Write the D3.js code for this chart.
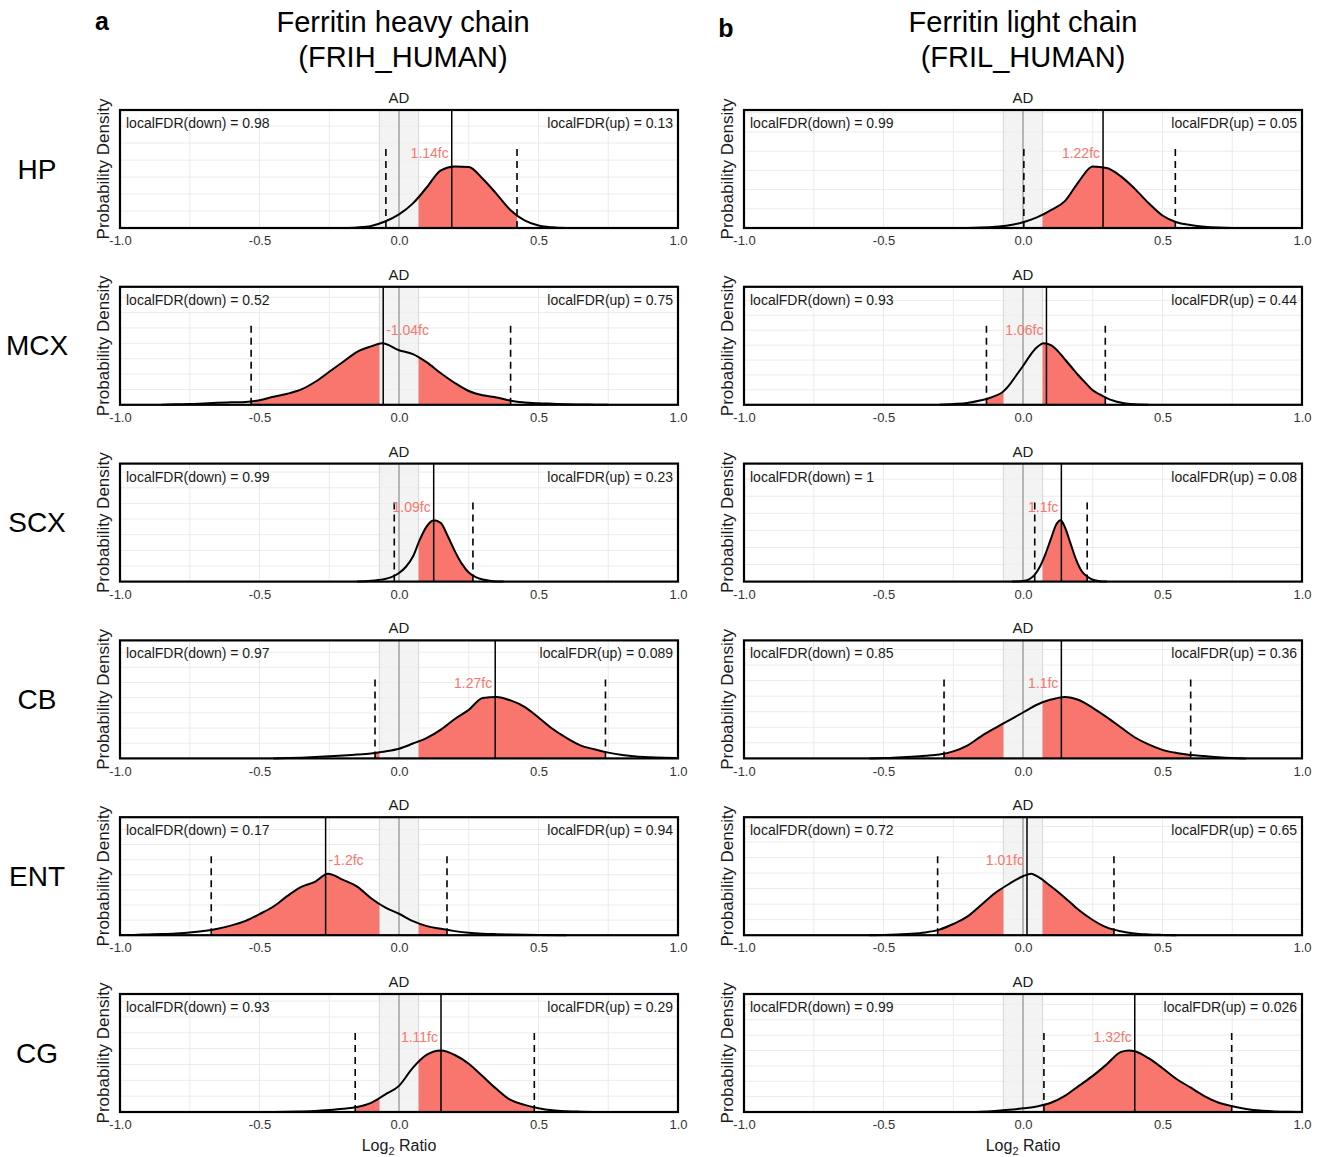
<!DOCTYPE html>
<html>
<head>
<meta charset="utf-8">
<script src="https://cdn.jsdelivr.net/npm/d3@7"></script>
<style>
  body { margin: 0; background: #fff; }
  svg text { font-family: "Liberation Sans", Arial, Helvetica, sans-serif; }
</style>
</head>
<body>
<svg id="chart" width="1327" height="1157"></svg>
<script>
// ---- labels ----
const regions = ["HP", "MCX", "SCX", "CB", "ENT", "CG"];
const panelLetters = ["a", "b"];
const proteinNames = ["Ferritin heavy chain", "Ferritin light chain"];
const proteinIds = ["(FRIH_HUMAN)", "(FRIL_HUMAN)"];
const conditionLabel = "AD";
const tickValues = [-1, -0.5, 0, 0.5, 1];

// ---- Ferritin heavy chain (FRIH_HUMAN) ----
const foldChangeFRIH = [1.14, -1.04, 1.09, 1.27, -1.2, 1.11];
const fdrDownFRIH = [0.98, 0.52, 0.99, 0.97, 0.17, 0.93];
const fdrUpFRIH = [0.13, 0.75, 0.23, 0.089, 0.94, 0.29];
const intervalFRIH = [[-0.047, 0.423], [-0.53, 0.40], [-0.017, 0.265], [-0.086, 0.74], [-0.673, 0.172], [-0.157, 0.485]];

const densFRIH_HP = [[-0.2,0],[-0.15,0.03],[-0.1,0.12],[-0.05,0.38],[0,0.8],[0.05,1.45],[0.1,2.4],[0.15,3.4],[0.2,3.62],[0.25,3.6],[0.3,2.9],[0.35,2.0],[0.4,1.05],[0.45,0.45],[0.5,0.15],[0.55,0.04],[0.6,0]];
const densFRIH_MCX = [[-0.85,0],[-0.8,0.03],[-0.75,0.05],[-0.7,0.09],[-0.65,0.13],[-0.6,0.16],[-0.55,0.19],[-0.5,0.3],[-0.45,0.53],[-0.4,0.72],[-0.35,1.0],[-0.3,1.5],[-0.25,2.15],[-0.2,2.8],[-0.15,3.45],[-0.1,3.8],[-0.06,4.0],[0,3.55],[0.05,3.3],[0.1,2.76],[0.15,2.05],[0.2,1.42],[0.25,0.9],[0.3,0.62],[0.35,0.48],[0.4,0.27],[0.45,0.15],[0.5,0.1],[0.55,0.07],[0.6,0.04],[0.7,0.01],[0.75,0]];
const densFRIH_SCX = [[-0.15,0],[-0.1,0.05],[-0.075,0.1],[-0.05,0.17],[-0.025,0.3],[0,0.55],[0.025,0.95],[0.05,1.6],[0.075,2.7],[0.1,3.55],[0.125,3.93],[0.15,3.75],[0.175,2.9],[0.2,1.95],[0.225,1.15],[0.25,0.58],[0.275,0.29],[0.3,0.13],[0.325,0.05],[0.35,0.01],[0.375,0]];
const densFRIH_CB = [[-0.45,0],[-0.4,0.02],[-0.35,0.05],[-0.3,0.09],[-0.25,0.14],[-0.2,0.19],[-0.15,0.25],[-0.1,0.33],[-0.05,0.46],[0,0.64],[0.05,0.98],[0.1,1.35],[0.15,1.9],[0.2,2.6],[0.25,3.2],[0.3,3.98],[0.35,4.05],[0.4,3.82],[0.45,3.4],[0.5,2.7],[0.55,1.95],[0.6,1.35],[0.65,0.86],[0.7,0.6],[0.75,0.38],[0.8,0.22],[0.85,0.12],[0.9,0.07],[0.95,0.04],[1.0,0.02]];
const densFRIH_ENT = [[-1.0,0.01],[-0.95,0.02],[-0.9,0.05],[-0.85,0.08],[-0.8,0.12],[-0.75,0.18],[-0.7,0.28],[-0.65,0.43],[-0.6,0.65],[-0.55,0.95],[-0.5,1.4],[-0.45,1.9],[-0.4,2.6],[-0.35,3.2],[-0.3,3.55],[-0.255,4.07],[-0.2,3.66],[-0.15,3.22],[-0.1,2.45],[-0.05,1.84],[0,1.42],[0.05,0.93],[0.1,0.6],[0.15,0.42],[0.2,0.27],[0.25,0.16],[0.3,0.1],[0.35,0.07],[0.4,0.05],[0.5,0.02],[0.6,0]];
const densFRIH_CG = [[-0.45,0],[-0.4,0.01],[-0.35,0.03],[-0.3,0.06],[-0.25,0.12],[-0.2,0.2],[-0.15,0.32],[-0.1,0.58],[-0.05,1.1],[0,1.65],[0.05,2.8],[0.1,3.62],[0.15,3.88],[0.2,3.6],[0.25,3.05],[0.3,2.25],[0.35,1.45],[0.4,0.76],[0.45,0.45],[0.5,0.24],[0.55,0.11],[0.6,0.05],[0.65,0.02],[0.7,0]];

// ---- Ferritin light chain (FRIL_HUMAN) ----
const foldChangeFRIL = [1.22, 1.06, 1.1, 1.1, 1.01, 1.32];
const fdrDownFRIL = [0.99, 0.93, 1, 0.85, 0.72, 0.99];
const fdrUpFRIL = [0.05, 0.44, 0.08, 0.36, 0.65, 0.026];
const intervalFRIL = [[0.003, 0.546], [-0.131, 0.295], [0.042, 0.23], [-0.283, 0.601], [-0.306, 0.326], [0.075, 0.748]];

const densFRIL_HP = [[-0.2,0],[-0.15,0.02],[-0.1,0.06],[-0.05,0.14],[0,0.3],[0.05,0.55],[0.1,0.93],[0.15,1.4],[0.2,2.42],[0.25,3.2],[0.3,3.12],[0.35,2.7],[0.4,2.05],[0.45,1.3],[0.5,0.65],[0.55,0.3],[0.6,0.16],[0.65,0.07],[0.7,0.02],[0.75,0]];
const densFRIL_MCX = [[-0.3,0],[-0.25,0.05],[-0.2,0.12],[-0.15,0.3],[-0.125,0.42],[-0.1,0.6],[-0.075,0.82],[-0.05,1.3],[-0.025,1.95],[0,2.6],[0.025,3.3],[0.05,3.85],[0.075,4.12],[0.1,4.0],[0.125,3.6],[0.15,3.05],[0.175,2.5],[0.2,1.95],[0.225,1.45],[0.25,0.97],[0.275,0.7],[0.3,0.45],[0.325,0.27],[0.35,0.15],[0.375,0.07],[0.4,0.03],[0.45,0]];
const densFRIL_SCX = [[-0.04,0],[0,0.04],[0.02,0.12],[0.04,0.36],[0.06,0.85],[0.08,1.6],[0.1,2.5],[0.12,3.37],[0.135,3.6],[0.15,3.2],[0.17,2.25],[0.19,1.3],[0.21,0.62],[0.23,0.3],[0.25,0.11],[0.27,0.04],[0.3,0]];
const densFRIL_CB = [[-0.55,0],[-0.5,0.02],[-0.45,0.06],[-0.4,0.11],[-0.35,0.17],[-0.3,0.25],[-0.25,0.45],[-0.2,0.82],[-0.15,1.42],[-0.1,1.95],[-0.05,2.45],[0,2.95],[0.05,3.45],[0.1,3.78],[0.15,3.95],[0.2,3.75],[0.25,3.25],[0.3,2.65],[0.35,2.0],[0.4,1.36],[0.45,0.9],[0.5,0.55],[0.55,0.35],[0.6,0.22],[0.65,0.15],[0.7,0.08],[0.75,0.03],[0.8,0]];
const densFRIL_ENT = [[-0.55,0],[-0.5,0.02],[-0.45,0.05],[-0.4,0.09],[-0.35,0.18],[-0.3,0.36],[-0.25,0.72],[-0.2,1.2],[-0.15,1.95],[-0.1,2.72],[-0.05,3.3],[0,3.8],[0.03,3.96],[0.05,3.8],[0.1,3.15],[0.15,2.42],[0.2,1.62],[0.25,0.98],[0.3,0.5],[0.35,0.25],[0.4,0.11],[0.45,0.05],[0.5,0.02],[0.55,0]];
const densFRIL_CG = [[-0.2,0],[-0.15,0.02],[-0.1,0.07],[-0.05,0.14],[0,0.24],[0.05,0.36],[0.1,0.6],[0.15,1.05],[0.2,1.7],[0.25,2.35],[0.3,3.1],[0.35,3.9],[0.38,4.0],[0.4,3.95],[0.45,3.5],[0.5,2.85],[0.55,2.15],[0.6,1.6],[0.65,1.04],[0.7,0.62],[0.75,0.38],[0.8,0.2],[0.85,0.09],[0.9,0.04],[0.95,0.01],[1.0,0]];

// ---- assembled per column ----
const columns = [
  { dens: [densFRIH_HP, densFRIH_MCX, densFRIH_SCX, densFRIH_CB, densFRIH_ENT, densFRIH_CG],
    fc: foldChangeFRIH, down: fdrDownFRIH, up: fdrUpFRIH, ci: intervalFRIH },
  { dens: [densFRIL_HP, densFRIL_MCX, densFRIL_SCX, densFRIL_CB, densFRIL_ENT, densFRIL_CG],
    fc: foldChangeFRIL, down: fdrDownFRIL, up: fdrUpFRIL, ci: intervalFRIL }
];

// ---- layout ----
const svg = d3.select("#chart");
const ropeHalf = Math.log2(1.05);          // region of practical equivalence
const colLeft = [120, 744];
const panelW = 558, panelH = 118;
const rowTop0 = 110, rowPitch = 176.8;
const titleCenter = [403, 1023];
const red = "#F8766D";
const gridColor = "#ebebeb";

svg.append("rect").attr("width", 1327).attr("height", 1157).attr("fill", "#fff");

const x = d3.scaleLinear().domain([-1, 1]).range([0, panelW]);
let clipId = 0;

function drawPanel(c, r) {
  const col = columns[c];
  const dens = col.dens[r];
  const fc = col.fc[r];
  const [lo, hi] = col.ci[r];
  const peak = d3.max(dens, d => d[1]);
  const y = d3.scaleLinear().domain([0, peak * 1.92]).range([panelH, 0]);

  const g = svg.append("g")
    .attr("transform", `translate(${colLeft[c]},${rowTop0 + r * rowPitch})`);

  // grid
  const gx = [-0.75, -0.5, -0.25, 0, 0.25, 0.5, 0.75];
  g.selectAll(".gx").data(gx).join("line")
    .attr("x1", d => x(d)).attr("x2", d => x(d))
    .attr("y1", 0).attr("y2", panelH)
    .attr("stroke", gridColor).attr("stroke-width", 1);
  const gy = d3.range(1, Math.floor(y.domain()[1]) + 1);
  g.selectAll(".gy").data(gy).join("line")
    .attr("x1", 0).attr("x2", panelW)
    .attr("y1", d => y(d)).attr("y2", d => y(d))
    .attr("stroke", gridColor).attr("stroke-width", 1);

  // equivalence band
  g.append("rect")
    .attr("x", x(-ropeHalf)).attr("width", x(ropeHalf) - x(-ropeHalf))
    .attr("y", 0).attr("height", panelH)
    .attr("fill", "#efefef").attr("fill-opacity", 0.75)
    .attr("stroke", "#d6d6d6").attr("stroke-width", 1);

  // shaded credible region outside the band
  const id = "clip" + (clipId++);
  const cp = g.append("clipPath").attr("id", id);
  if (lo < -ropeHalf) {
    cp.append("rect").attr("x", x(lo)).attr("y", 0)
      .attr("width", x(Math.min(hi, -ropeHalf)) - x(lo)).attr("height", panelH);
  }
  if (hi > ropeHalf) {
    const s = Math.max(lo, ropeHalf);
    cp.append("rect").attr("x", x(s)).attr("y", 0)
      .attr("width", x(hi) - x(s)).attr("height", panelH);
  }
  const area = d3.area()
    .x(d => x(d[0])).y0(y(0)).y1(d => y(d[1]))
    .curve(d3.curveMonotoneX);
  g.append("path").datum(dens)
    .attr("d", area).attr("fill", red)
    .attr("clip-path", `url(#${id})`);

  // zero line
  g.append("line")
    .attr("x1", x(0)).attr("x2", x(0)).attr("y1", 0).attr("y2", panelH)
    .attr("stroke", "#a8a8a8").attr("stroke-width", 1.6);

  // density curve
  const line = d3.line().x(d => x(d[0])).y(d => y(d[1])).curve(d3.curveMonotoneX);
  g.append("path").datum(dens)
    .attr("d", line).attr("fill", "none")
    .attr("stroke", "#000").attr("stroke-width", 2).attr("stroke-linejoin", "round");

  // interval bounds
  g.selectAll(".ci").data([lo, hi]).join("line")
    .attr("x1", d => x(d)).attr("x2", d => x(d))
    .attr("y1", y(0)).attr("y2", y(peak * 1.32))
    .attr("stroke", "#000").attr("stroke-width", 1.6)
    .attr("stroke-dasharray", "7,5");

  // point estimate
  const lfc = Math.sign(fc) * Math.log2(Math.abs(fc));
  g.append("line")
    .attr("x1", x(lfc)).attr("x2", x(lfc)).attr("y1", 0).attr("y2", panelH)
    .attr("stroke", "#000").attr("stroke-width", 1.5);

  g.append("text")
    .attr("x", fc > 0 ? x(lfc) - 3 : x(lfc) + 3)
    .attr("y", y(peak * 1.22) + 5)
    .attr("text-anchor", fc > 0 ? "end" : "start")
    .attr("font-size", 14).attr("fill", red)
    .text(fc + "fc");

  // local FDR annotations
  g.append("text").attr("x", 6).attr("y", 18)
    .attr("font-size", 14).attr("fill", "#1a1a1a")
    .text(`localFDR(down) = ${col.down[r]}`);
  g.append("text").attr("x", panelW - 5).attr("y", 18)
    .attr("text-anchor", "end")
    .attr("font-size", 14).attr("fill", "#1a1a1a")
    .text(`localFDR(up) = ${col.up[r]}`);

  // panel frame
  g.append("rect").attr("width", panelW).attr("height", panelH)
    .attr("fill", "none").attr("stroke", "#000").attr("stroke-width", 2.2);

  // strip label
  g.append("text").attr("x", panelW / 2).attr("y", -7)
    .attr("text-anchor", "middle").attr("font-size", 15).attr("fill", "#1a1a1a")
    .text(conditionLabel);

  // x axis labels
  const ax = g.append("g").attr("transform", `translate(0,${panelH})`)
    .call(d3.axisBottom(x).tickValues(tickValues).tickSize(0).tickPadding(8)
      .tickFormat(d => d.toFixed(1)));
  ax.select(".domain").remove();
  ax.selectAll("text")
    .attr("font-size", 13).attr("fill", "#333")
    .style("font-family", '"Liberation Sans", Arial, sans-serif');

  // y axis title
  g.append("text")
    .attr("transform", `translate(-11.5,${panelH / 2}) rotate(-90)`)
    .attr("text-anchor", "middle").attr("font-size", 17).attr("fill", "#1a1a1a")
    .text("Probability Density");
}

for (let c = 0; c < 2; c++) {
  for (let r = 0; r < regions.length; r++) drawPanel(c, r);
}

// region labels
svg.selectAll(".region").data(regions).join("text")
  .attr("x", 37)
  .attr("y", (d, i) => rowTop0 + i * rowPitch + panelH / 2)
  .attr("dominant-baseline", "central")
  .attr("text-anchor", "middle").attr("font-size", 28).attr("fill", "#000")
  .text(d => d);

// column titles
proteinNames.forEach((name, c) => {
  svg.append("text").attr("x", titleCenter[c]).attr("y", 32)
    .attr("text-anchor", "middle").attr("font-size", 29).attr("fill", "#000")
    .text(name);
  svg.append("text").attr("x", titleCenter[c]).attr("y", 67)
    .attr("text-anchor", "middle").attr("font-size", 29).attr("fill", "#000")
    .text(proteinIds[c]);
});

// panel letters
svg.append("text").attr("x", 102).attr("y", 30)
  .attr("text-anchor", "middle").attr("font-size", 25).attr("font-weight", "bold")
  .text(panelLetters[0]);
svg.append("text").attr("x", 726).attr("y", 37)
  .attr("text-anchor", "middle").attr("font-size", 25).attr("font-weight", "bold")
  .text(panelLetters[1]);

// x axis titles
colLeft.forEach(l => {
  const t = svg.append("text")
    .attr("x", l + panelW / 2)
    .attr("y", rowTop0 + 5 * rowPitch + panelH + 39)
    .attr("text-anchor", "middle").attr("font-size", 16).attr("fill", "#1a1a1a");
  t.append("tspan").text("Log");
  t.append("tspan").attr("font-size", 11).attr("dy", 4).text("2");
  t.append("tspan").attr("dy", -4).text(" Ratio");
});
</script>
</body>
</html>
